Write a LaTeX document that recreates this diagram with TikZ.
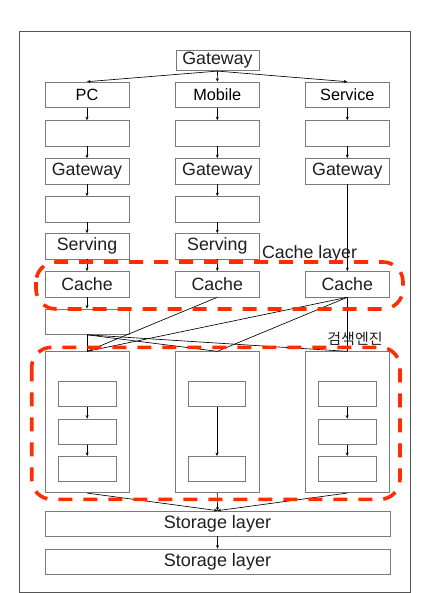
\documentclass[tikz,border=0pt]{standalone}
\usepackage{fontspec}
\setmainfont{Liberation Sans}
\newfontfamily\krfont{Noto Sans CJK KR}
\usetikzlibrary{arrows.meta}
\definecolor{redd}{HTML}{FF2D00}
\definecolor{boxgray}{HTML}{7A7A7A}
\definecolor{framegray}{HTML}{555555}
\definecolor{txt}{HTML}{1E1E1E}
\begin{document}
\begin{tikzpicture}[x=1pt,y=-1pt,
  bx/.style={draw=boxgray, line width=0.7pt, minimum width=84pt, minimum height=25.5pt, inner sep=0pt, text=txt, font=\fontsize{17.8}{17.8}\selectfont},
  lbl/.style={text=black, font=\fontsize{16.3}{16.3}\selectfont},
  inbx/.style={draw=boxgray, line width=0.7pt, minimum width=57.5pt, minimum height=25.4pt, inner sep=0pt},
  sbx/.style={draw=boxgray, line width=0.7pt, minimum width=84pt, minimum height=141pt, inner sep=0pt},
  stbx/.style={draw=boxgray, line width=0.7pt, minimum width=345pt, minimum height=25pt, inner sep=0pt, text=txt, font=\fontsize{18}{18}\selectfont},
  arr/.style={-{Stealth[length=3.5pt,width=3pt]}, line width=0.65pt},
  ln/.style={line width=0.65pt},
  reddash/.style={draw=redd, line width=3.6pt, dash pattern=on 14pt off 11pt, rounded corners=20pt}]
\useasboundingbox (0,0) rectangle (420,593);
\draw[framegray, line width=0.8pt] (19.3,31) rectangle (410.7,592);

% top
\node[bx, minimum width=83pt, minimum height=20.5pt] (gw) at (217.5,60.5) {Gateway};

% PC column
\node[bx, lbl] (pc) at (87,94.8) {PC};
\node[bx] (pc1) at (87,133.3) {};
\node[bx] (pcgw) at (87,171.2) {Gateway};
\node[bx] (pc2) at (87,209.2) {};
\node[bx] (pcsv) at (87,246.3) {Serving};
\node[bx] (pcca) at (87,284.2) {Cache};
\node[bx] (pc3) at (87,321.7) {};

% Mobile column
\node[bx, lbl] (mo) at (217.3,94.8) {Mobile};
\node[bx] (mo1) at (217.3,133.3) {};
\node[bx] (mogw) at (217.3,171.2) {Gateway};
\node[bx] (mo2) at (217.3,209.2) {};
\node[bx] (mosv) at (217.3,246.3) {Serving};
\node[bx] (moca) at (217.3,284.2) {Cache};

% Service column
\node[bx, lbl] (se) at (347.3,94.8) {Service};
\node[bx] (se1) at (347.3,133.3) {};
\node[bx] (segw) at (347.3,171.2) {Gateway};
\node[bx] (seca) at (347.3,284.2) {Cache};

% search engine boxes
\node[sbx] (spc) at (87,422.2) {};
\node[sbx] (smo) at (217.3,422.2) {};
\node[sbx] (sse) at (347.3,422.2) {};

\node[inbx] (a1) at (87.2,394) {};
\node[inbx] (a2) at (87.2,431.7) {};
\node[inbx] (a3) at (87.2,469) {};
\node[inbx] (b1) at (217,394) {};
\node[inbx] (b3) at (217,469) {};
\node[inbx] (c1) at (347.2,394) {};
\node[inbx] (c2) at (347.2,431.7) {};
\node[inbx] (c3) at (347.2,469) {};

% storage
\node[stbx] (st1) at (217.5,523.5) {Storage layer};
\node[stbx] (st2) at (217.5,561.5) {Storage layer};

% arrows
\draw[arr] (gw.south) -- (pc.north);
\draw[arr] (gw.south) -- (mo.north);
\draw[arr] (gw.south) -- (se.north);

\draw[arr] (pc) -- (pc1);
\draw[arr] (pc1) -- (pcgw);
\draw[arr] (pcgw) -- (pc2);
\draw[arr] (pc2) -- (pcsv);
\draw[arr] (pcsv) -- (pcca);
\draw[arr] (pcca) -- (pc3);

\draw[arr] (mo) -- (mo1);
\draw[arr] (mo1) -- (mogw);
\draw[arr] (mogw) -- (mo2);
\draw[arr] (mo2) -- (mosv);
\draw[arr] (mosv) -- (moca);

\draw[arr] (se) -- (se1);
\draw[arr] (se1) -- (segw);
\draw[arr] (segw) -- (seca);

\draw[ln] (pc3.south) -- (spc.north);
\draw[ln] (pc3.south) -- (smo.north);
\draw[ln] (pc3.south) -- (sse.north);
\draw[ln] (moca.south) -- (spc.north);
\draw[ln] (seca.south) -- (spc.north);
\draw[ln] (seca.south) -- (smo.north);
\draw[ln] (seca.south) -- (sse.north);

\draw[arr] (a1) -- (a2);
\draw[arr] (a2) -- (a3);
\draw[arr] (b1) -- (b3);
\draw[arr] (c1) -- (c2);
\draw[arr] (c2) -- (c3);

\draw[arr] (spc.south) -- (st1.north);
\draw[arr] (smo.south) -- (st1.north);
\draw[arr] (sse.south) -- (st1.north);
\draw[arr] (st1) -- (st2);

% labels
\node[text=txt, font=\fontsize{17.8}{17.8}\selectfont, inner sep=0pt] (cl) at (309.5,254) {Cache layer};
\node[text=txt, font=\krfont\fontsize{15}{15}\selectfont, inner sep=0pt] (se2) at (355,339) {검색엔진};

% red dashed groups
\draw[reddash] (36,262) rectangle (403,309);
\draw[reddash] (31.7,347.3) rectangle (400,499.3);
\end{tikzpicture}
\end{document}
